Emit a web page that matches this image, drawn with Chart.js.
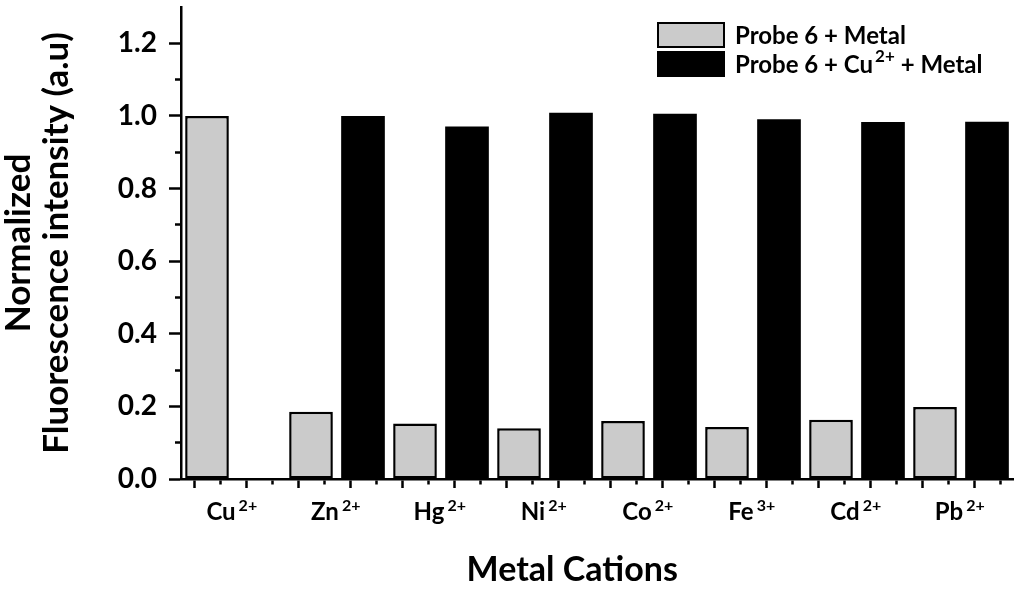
<!DOCTYPE html>
<html>
<head>
<meta charset="utf-8">
<script src="https://cdn.jsdelivr.net/npm/chart.js@4.4.0/dist/chart.umd.min.js"></script>
<style>
  html, body { margin: 0; padding: 0; background: #ffffff; }
  #wrap { position: relative; width: 1024px; height: 594px; }
  canvas { display: block; }
  #legend { position: absolute; left: 657px; top: 20px; font-family: Lato, "Open Sans", sans-serif; font-weight: 700; font-size: 24px; color: #000; }
  .item { display: flex; align-items: center; height: 29px; white-space: nowrap; }
  .box { width: 68px; height: 26px; box-sizing: border-box; margin-right: 10px; }
  sup { font-size: 17px; line-height: 0; position: relative; top: -2px; margin-left: 2px; }
</style>
</head>
<body>
<div id="wrap">
  <canvas id="c" width="1024" height="594"></canvas>
  <div id="legend"></div>
</div>
<script>
// ---- data ----
const categories = ['Cu', 'Zn', 'Hg', 'Ni', 'Co', 'Fe', 'Cd', 'Pb'];
const charges    = ['2+', '2+', '2+', '2+', '2+', '3+', '2+', '2+'];
const probeMetal   = [1.000, 0.185, 0.153, 0.140, 0.160, 0.143, 0.163, 0.198];
const probeCuMetal = [null,  1.000, 0.971, 1.009, 1.006, 0.991, 0.983, 0.984];
const seriesLabels = ['Probe 6 + Metal', 'Probe 6 + Cu²⁺ + Metal'];
const seriesLegendHtml = ['Probe 6 + Metal', 'Probe 6 + Cu<sup>2+</sup> + Metal'];
const seriesColors = ['#cbcbcb', '#000000'];
const yTickValues = [0.0, 0.2, 0.4, 0.6, 0.8, 1.0, 1.2];
const yTitle = ['Normalized', 'Fluorescence intensity (a.u)'];
const xTitle = 'Metal Cations';

const FONT = 'Lato';
const X_FONT_SIZE = 24, SUP_FONT_SIZE = 16, X_PAD = 10, LABEL_SHIFT = -12, SUP_GAP = 3;
const isMajorY = v => yTickValues.some(t => Math.abs(t - v) < 1e-6);

// draws the charge superscripts next to the category tick labels
const supPlugin = {
  id: 'supLabels',
  afterDraw(chart) {
    const s = chart.scales.x, ctx = chart.ctx;
    const lineH = X_FONT_SIZE * 1.2;
    const mid = s.top + X_PAD + lineH / 2;
    ctx.save();
    ctx.fillStyle = '#000';
    s.ticks.forEach((t, i) => {
      const cx = s.getPixelForTick(i) + LABEL_SHIFT;
      ctx.font = `bold ${X_FONT_SIZE}px ${FONT}`;
      const w = ctx.measureText(categories[i]).width;
      ctx.font = `bold ${SUP_FONT_SIZE}px ${FONT}`;
      ctx.textAlign = 'left';
      ctx.textBaseline = 'middle';
      ctx.fillText(charges[i], cx + w / 2 + SUP_GAP, mid - 7);
    });
    ctx.restore();
  }
};

const chart = new Chart(document.getElementById('c'), {
  type: 'bar',
  data: {
    labels: categories,
    datasets: [
      { label: seriesLabels[0], data: probeMetal, backgroundColor: seriesColors[0], borderColor: '#000', borderWidth: 2.5, borderSkipped: false, xAxisID: 'x' },
      { label: seriesLabels[1], data: probeCuMetal, backgroundColor: seriesColors[1], borderColor: '#000', borderWidth: 0, xAxisID: 'x' }
    ]
  },
  plugins: [supPlugin],
  options: {
    responsive: false,
    animation: false,
    devicePixelRatio: 1,
    layout: { padding: { left: 0, right: 11, top: 7, bottom: 0 } },
    datasets: { bar: { categoryPercentage: 1.0, barPercentage: 0.84 } },
    plugins: { legend: { display: false }, tooltip: { enabled: false } },
    scales: {
      y: {
        type: 'linear', min: 0, max: 1.3,
        afterFit: s => { s.width = 181; s.paddingTop = 0; s.paddingBottom = 0; },
        border: { display: true, color: '#000', width: 2.5 },
        grid: {
          drawOnChartArea: false, drawTicks: true, tickLength: 12, tickWidth: 2.5,
          tickColor: ctx => (ctx.tick && ctx.tick.value > 1.25) ? 'rgba(0,0,0,0)' : '#000',
          tickBorderDash: ctx => (ctx.tick && !isMajorY(ctx.tick.value)) ? [6, 6] : [],
          tickBorderDashOffset: ctx => (ctx.tick && !isMajorY(ctx.tick.value)) ? 6 : 0
        },
        ticks: {
          stepSize: 0.1, autoSkip: false, padding: 12, color: '#000',
          font: { family: FONT, weight: 'bold', size: 28 },
          callback: v => isMajorY(v) ? v.toFixed(1) : ''
        },
        title: { display: true, text: yTitle, color: '#000', font: { family: FONT, weight: 'bold', size: 35, lineHeight: 1.08 }, padding: { top: 0, bottom: 0 } }
      },
      x2: {
        type: 'linear', position: 'bottom', min: 0, max: 32, weight: 0, offset: false,
        afterFit: s => { s.height = 9; s.paddingLeft = 0; s.paddingRight = 0; },
        border: { display: true, color: '#000', width: 2.5 },
        grid: {
          drawOnChartArea: false, drawTicks: true, tickLength: 9, tickWidth: 2.5, tickColor: '#000',
          tickBorderDash: ctx => (ctx.tick && Math.round(ctx.tick.value) % 2 === 0) ? [4, 30] : []
        },
        ticks: { display: false, stepSize: 1, autoSkip: false }
      },
      x: {
        type: 'category', position: 'bottom', weight: 1, offset: true,
        afterFit: s => { s.height = 106; s.paddingLeft = 0; s.paddingRight = 0; },
        border: { display: false },
        grid: { display: false, drawTicks: false },
        ticks: { padding: X_PAD, labelOffset: LABEL_SHIFT, color: '#000', maxRotation: 0, autoSkip: false, font: { family: FONT, weight: 'bold', size: X_FONT_SIZE } },
        title: { display: true, text: xTitle + '\u00a0\u00a0\u00a0\u00a0\u00a0\u00a0', color: '#000', font: { family: FONT, weight: 'bold', size: 34 }, padding: { top: 0, bottom: 4 } }
      }
    }
  }
});

// HTML legend built from the series arrays
const legend = document.getElementById('legend');
seriesLabels.forEach((lab, i) => {
  const item = document.createElement('div');
  item.className = 'item';
  const box = document.createElement('div');
  box.className = 'box';
  box.style.background = seriesColors[i];
  box.style.border = i === 0 ? '2.5px solid #000' : '0';
  const txt = document.createElement('span');
  txt.innerHTML = seriesLegendHtml[i];
  item.appendChild(box);
  item.appendChild(txt);
  legend.appendChild(item);
});
</script>
</body>
</html>
